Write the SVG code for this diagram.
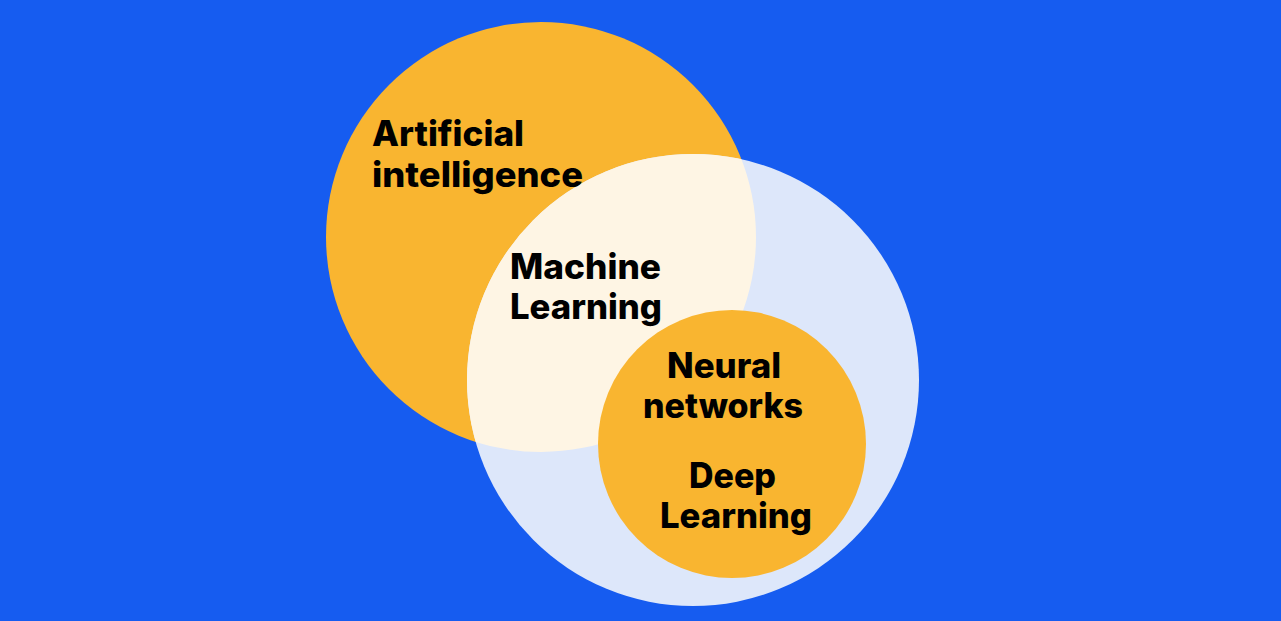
<svg xmlns="http://www.w3.org/2000/svg" width="1281" height="621" viewBox="0 0 1281 621">
<style>
.lbl{font-family:"Inter","Noto Sans","Liberation Sans",sans-serif;font-weight:800;font-size:35px;fill:#000}
.orange{fill:#F9B530}
</style>
<defs>
<clipPath id="aiClip"><circle cx="541" cy="237" r="215"/></clipPath>
</defs>
<rect width="1281" height="621" fill="#165CF0"/>
<g id="ai">
<circle class="orange" cx="541" cy="237" r="215"/>
</g>
<g id="ml">
<circle cx="693" cy="380" r="226" fill="#DDE7FA"/>
<circle cx="693" cy="380" r="226" fill="#FEF5E4" clip-path="url(#aiClip)"/>
</g>
<g id="nn">
<circle class="orange" cx="732" cy="444" r="134"/>
</g>
<g id="connectors"/>
<g id="labels">
<text class="lbl" x="372" y="146" textLength="152" lengthAdjust="spacingAndGlyphs">Artificial</text>
<text class="lbl" x="372" y="187" textLength="211" lengthAdjust="spacingAndGlyphs">intelligence</text>
<text class="lbl" x="510" y="279" textLength="151" lengthAdjust="spacingAndGlyphs">Machine</text>
<text class="lbl" x="510" y="319" textLength="152" lengthAdjust="spacingAndGlyphs">Learning</text>
<text class="lbl" x="667" y="378" textLength="114" lengthAdjust="spacingAndGlyphs">Neural</text>
<text class="lbl" x="643" y="418" textLength="160" lengthAdjust="spacingAndGlyphs">networks</text>
<text class="lbl" x="689" y="488" textLength="87" lengthAdjust="spacingAndGlyphs">Deep</text>
<text class="lbl" x="660" y="528" textLength="152" lengthAdjust="spacingAndGlyphs">Learning</text>
</g>
</svg>
